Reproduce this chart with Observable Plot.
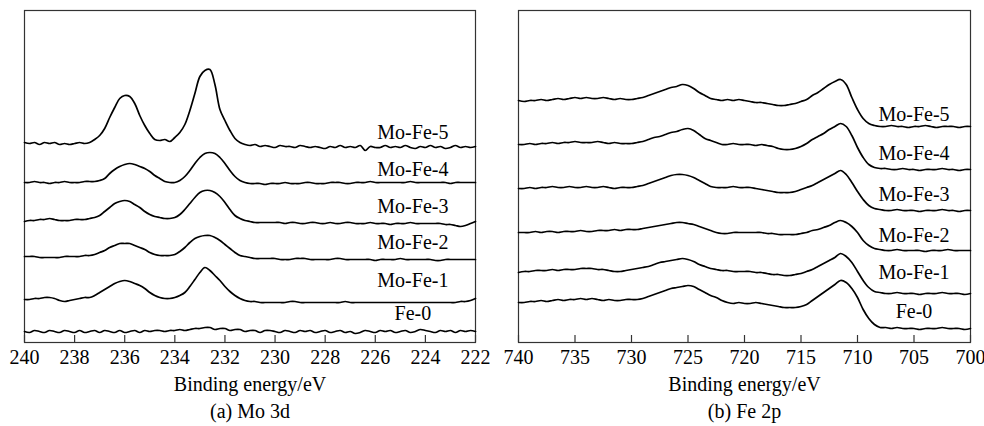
<!DOCTYPE html>
<html><head><meta charset="utf-8">
<script src="https://cdn.jsdelivr.net/npm/d3@7"></script>
<script src="https://cdn.jsdelivr.net/npm/@observablehq/plot@0.6"></script>
<style>
body{margin:0;background:#fff}
#wrap{display:flex;width:984px;height:426px;overflow:hidden}
#wrap svg, #wrap svg text{font-family:"Liberation Serif","DejaVu Serif",serif !important;font-size:20px !important}
</style>
</head><body><div id="wrap"></div>
<script>
// ---------- data ----------
const seriesNames = ["Mo-Fe-5","Mo-Fe-4","Mo-Fe-3","Mo-Fe-2","Mo-Fe-1","Fe-0"];

// (a) Mo 3d — binding energy (eV) and intensity (a.u., offset per sample)
const moEnergy = [240,239.8,239.6,239.4,239.2,239,238.8,238.6,238.4,238.2,238,237.8,237.6,237.4,237.2,237,236.8,236.6,236.4,236.2,236,235.8,235.6,235.4,235.2,235,234.8,234.6,234.4,234.2,234,233.8,233.6,233.4,233.2,233,232.8,232.6,232.4,232.2,232,231.8,231.6,231.4,231.2,231,230.8,230.6,230.4,230.2,230,229.8,229.6,229.4,229.2,229,228.8,228.6,228.4,228.2,228,227.8,227.6,227.4,227.2,227,226.8,226.6,226.4,226.2,226,225.8,225.6,225.4,225.2,225,224.8,224.6,224.4,224.2,224,223.8,223.6,223.4,223.2,223,222.8,222.6,222.4,222.2,222];
const moFe5 = [200,199,200,198,200,199,200,198,199,198,199,200,199,200,
  203,207,214,225,235,244,247,246,239,227,217,209,203,202,203,201,205,210,218,232,249,266,272,273,258,233,222,212,204,200,198,197,
  198,196,197,196,195,197,196,196,195,197,196,195,196,195,194,196,195,197,195,196,195,197,192,196,195,195,197,195,196,195,197,195,194,196,195,197,195,196,194,195,197,195,196,195,196];
const moFe4 = [160,160,161,160,160,159,160,160,161,160,160,160,161,161,
  161,162,164,169,173,176,178,179,178,176,174,171,167,164,161,160,160,162,166,172,179,185,189,190,189,185,179,172,166,162,160,159,
  159,159,158,159,159,159,160,159,159,159,160,160,159,159,159,160,160,160,159,159,160,160,160,161,160,160,160,160,160,160,160,161,160,160,160,160,160,160,160,159,160,160,160,160,160];
const moFe3 = [121,122,122,123,123,124,123,122,122,122,123,123,123,124,
  125,127,131,135,139,141,142,141,138,135,131,128,126,125,124,124,125,128,133,139,145,150,152,152,150,146,140,133,127,124,122,121,
  120,120,120,120,120,120,119,120,120,119,119,120,120,119,119,120,119,119,120,120,119,119,119,120,119,119,119,118,119,119,119,120,119,119,119,119,119,119,118,118,117,116,117,119,121];
const moFe2 = [86,86,86,85,85,85,85,85,86,86,86,86,87,87,
  88,90,92,95,97,99,99,99,97,95,93,90,88,87,87,87,88,91,95,100,104,106,107,107,105,102,98,94,90,87,86,85,
  84,84,84,84,84,83,83,83,84,84,84,83,83,83,83,83,84,84,83,83,83,83,83,83,82,83,83,83,83,84,83,83,83,83,83,83,82,82,83,83,83,83,83,83,83];
const moFe1 = [43,43,44,44,45,45,44,42,41,42,43,44,45,45,
  47,50,53,56,59,61,62,61,59,57,54,50,47,45,44,44,45,47,50,56,63,70,75,72,67,62,56,51,47,44,42,41,
  41,40,40,40,40,40,40,41,41,40,40,40,40,40,40,40,40,40,41,40,40,40,40,40,40,40,40,40,40,40,40,40,40,40,40,40,40,40,40,40,40,41,41,42,44];
const moFe0 = [11,10,12,11,10,12,11,10,12,11,10,12,10,11,12,10,12,11,10,12,10,11,12,10,12,11,12,12,11,12,12,13,12,13,14,14,15,15,13,14,14,12,13,13,11,12,12,10,12,12,11,10,12,11,10,12,11,12,10,11,12,10,11,12,10,11,9,10,12,11,10,12,11,12,10,11,12,10,11,13,12,11,10,12,11,12,10,12,11,12,11];
const moTicks = [240,238,236,234,232,230,228,226,224,222];
const moLabelY = [204,167,130,94,56,23];

// (b) Fe 2p
const feEnergy = [740,739.5,739,738.5,738,737.5,737,736.5,736,735.5,735,734.5,734,733.5,733,732.5,732,731.5,731,730.5,730,729.5,729,728.5,728,727.5,727,726.5,726,725.5,725,724.5,724,723.5,723,722.5,722,721.5,721,720.5,720,719.5,719,718.5,718,717.5,717,716.5,716,715.5,715,714.5,714,713.5,713,712.5,712,711.5,711,710.5,710,709.5,709,708.5,708,707.5,707,706.5,706,705.5,705,704.5,704,703.5,703,702.5,702,701.5,701,700.5,700];
const feFe5 = [242,241,242,242,243,242,243,244,243,244,245,244,245,244,244,245,244,243,244,243,243,244,245,
  247,249,251,253,255,256,258,257,254,250,247,244,243,242,243,242,243,242,241,240,240,239,238,237,237,238,239,241,243,247,250,254,258,261,263,258,245,233,224,219,217,216,
  216,217,216,216,215,216,216,217,216,215,216,216,216,215,216,216];
const feFe4 = [198,198,199,198,199,199,200,199,200,200,201,200,200,200,201,200,199,200,199,199,199,200,201,
  203,205,206,208,210,211,213,214,212,208,204,202,200,198,198,199,198,198,198,197,198,197,196,194,193,193,194,196,199,203,206,209,213,216,219,216,207,195,185,178,175,174,
  174,173,173,174,173,173,172,173,173,173,174,173,173,172,173,173];
const feFe3 = [154,154,155,154,155,155,156,155,155,156,155,155,156,155,155,156,155,154,155,155,155,156,157,
  159,161,163,165,167,168,168,167,165,162,159,156,155,155,155,156,155,155,155,154,153,152,151,150,150,150,151,153,155,157,160,163,166,169,172,168,160,151,143,137,134,133,
  132,132,133,132,132,132,131,132,132,132,133,132,132,131,132,132];
const feFe2 = [110,110,110,111,110,111,111,110,111,111,111,112,111,111,112,112,112,113,112,113,113,113,114,
  115,116,117,118,119,120,120,119,118,116,114,112,110,109,109,110,110,110,110,110,110,109,109,108,108,108,108,109,110,112,113,115,117,120,122,120,116,110,102,97,94,93,
  92,92,93,92,92,92,92,91,92,92,92,93,92,92,92,92];
const feFe1 = [70,71,71,72,72,72,73,72,73,73,73,74,74,74,73,73,72,71,71,72,73,74,75,
  76,78,80,81,82,83,84,83,81,78,76,74,73,72,72,71,71,71,71,70,70,69,68,68,67,67,68,69,71,73,76,79,82,85,89,86,80,71,62,55,51,50,
  49,49,50,49,49,49,48,49,49,49,50,49,49,49,48,49];
const feFe0 = [40,40,41,41,42,41,42,43,42,43,43,44,43,44,43,42,43,42,42,43,43,43,44,
  46,48,50,52,54,55,56,57,56,53,50,47,45,42,40,39,40,39,39,40,39,38,37,36,35,35,35,36,38,42,46,50,54,58,62,60,54,45,33,24,18,15,
  15,14,15,14,14,14,13,14,14,14,15,14,14,14,13,14];
const feTicks = [740,735,730,725,720,715,710,705,700];
const feLabelY = [222,183,142,101,64,25];

// ---------- drawing ----------
const serif = '"Liberation Serif", "DejaVu Serif", serif';
function panel({energy, values, ticks, labelX, labelY, caption, width, marginLeft, marginRight}) {
  const rows = seriesNames.flatMap((name, k) => energy.map((e, i) => ({name, e, v: values[k][i]})));
  const labels = seriesNames.map((name, k) => ({name, x: labelX, y: labelY[k]}));
  return Plot.plot({
    width, height: 426,
    marginTop: 10, marginBottom: 84, marginLeft, marginRight,
    style: {fontFamily: serif, fontSize: "20px", color: "#000", background: "#fff", overflow: "visible"},
    x: {domain: [ticks[0], ticks[ticks.length - 1]]},
    y: {domain: [0, 332], axis: null},
    marks: [
      Plot.frame({stroke: "#333", strokeWidth: 1.2}),
      Plot.tickX(ticks, {x: d => d, insetTop: 325, stroke: "#333", strokeWidth: 1.2}),
      Plot.axisX({ticks, tickSize: 0, tickPadding: 7, label: null, fontSize: 20, fontFamily: serif, tickFormat: d => String(d)}),
      Plot.line(rows, {x: "e", y: "v", z: "name", stroke: "#000", strokeWidth: 1.7, strokeLinejoin: "round", curve: "catmull-rom"}),
      Plot.text(labels, {x: "x", y: "y", text: "name", lineAnchor: "bottom", fontSize: 20, fontFamily: serif, fill: "#000"}),
      Plot.text(["Binding energy/eV"], {frameAnchor: "bottom", dy: 48, lineAnchor: "bottom", fontSize: 20, fontFamily: serif, fill: "#000"}),
      Plot.text([caption], {frameAnchor: "bottom", dy: 75, lineAnchor: "bottom", fontSize: 20, fontFamily: serif, fill: "#000"})
    ]
  });
}

const wrap = document.getElementById("wrap");
wrap.append(panel({
  energy: moEnergy, values: [moFe5, moFe4, moFe3, moFe2, moFe1, moFe0], ticks: moTicks,
  labelX: 224.5, labelY: moLabelY, caption: "(a) Mo 3d", width: 490, marginLeft: 24, marginRight: 15
}));
wrap.append(panel({
  energy: feEnergy, values: [feFe5, feFe4, feFe3, feFe2, feFe1, feFe0], ticks: feTicks,
  labelX: 705, labelY: feLabelY, caption: "(b) Fe 2p", width: 494, marginLeft: 28, marginRight: 14
}));
</script>
</body></html>
